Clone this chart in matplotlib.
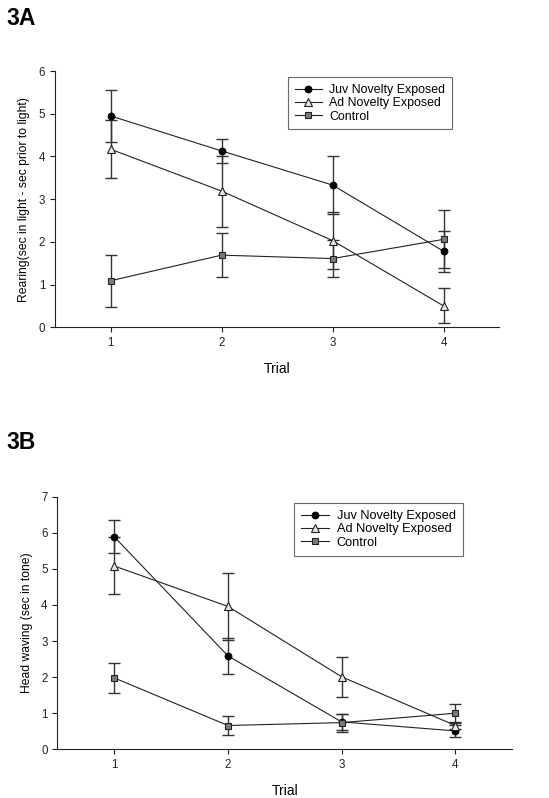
import matplotlib.pyplot as plt

plt.rcParams['font.family'] = ['Liberation Sans', 'DejaVu Sans']

trials = [1, 2, 3, 4]
series_names = ['Juv Novelty Exposed', 'Ad Novelty Exposed', 'Control']

# 3A - rearing
rear_juv = [4.95, 4.13, 3.33, 1.78]
rear_juv_err = [0.60, 0.29, 0.68, 0.48]
rear_ad = [4.17, 3.19, 2.03, 0.50]
rear_ad_err = [0.68, 0.83, 0.66, 0.41]
rear_ctrl = [1.09, 1.69, 1.61, 2.06]
rear_ctrl_err = [0.61, 0.51, 0.44, 0.68]

# 3B - head waving
head_juv = [5.89, 2.59, 0.76, 0.51]
head_juv_err = [0.45, 0.50, 0.22, 0.16]
head_ad = [5.08, 3.96, 2.01, 0.66]
head_ad_err = [0.79, 0.92, 0.56, 0.10]
head_ctrl = [1.98, 0.66, 0.74, 1.00]
head_ctrl_err = [0.42, 0.25, 0.25, 0.26]

styles = [
    dict(marker='o', mfc='black', mec='black', ms=4.8),
    dict(marker='^', mfc='#e8e8e8', mec='#222222', ms=5.3),
    dict(marker='s', mfc='#7a7a7a', mec='#222222', ms=4.6),
]


def draw_panel(ax, values, errs, ylim, ylabel, legend_box, legend_fs):
    # error bars drawn first so markers sit on top
    for v, e in zip(values, errs):
        ax.errorbar(trials, v, yerr=e, fmt='none', ecolor='#333333',
                    elinewidth=1.0, capsize=4, capthick=1.0, zorder=2)
    handles = []
    for v, st, name in zip(values, styles, series_names):
        h, = ax.plot(trials, v, color='#222222', lw=0.8, mew=0.8,
                     label=name, zorder=3, **st)
        handles.append(h)
    ax.set_xlim(0.5, 4.5)
    ax.set_ylim(*ylim)
    ax.set_xticks(trials)
    ax.set_yticks(range(ylim[0], ylim[1] + 1))
    ax.spines['top'].set_visible(False)
    ax.spines['right'].set_visible(False)
    for s in ('left', 'bottom'):
        ax.spines[s].set_linewidth(0.8)
        ax.spines[s].set_color('#222222')
    ax.tick_params(direction='out', length=3.5, width=0.8, labelsize=8.3,
                   colors='#222222')
    ax.set_xlabel('Trial', fontsize=10, labelpad=9)
    ax.set_ylabel(ylabel, fontsize=8.7, labelpad=6)
    leg = ax.legend(handles=handles, loc='upper left',
                    bbox_to_anchor=legend_box, fontsize=legend_fs, frameon=True,
                    fancybox=False, edgecolor='#444444', handlelength=2.2,
                    borderpad=0.55, labelspacing=0.1, handletextpad=0.6,
                    borderaxespad=0)
    leg.get_frame().set_linewidth(0.8)


fig = plt.figure(figsize=(5.49, 7.98), dpi=100)

ax1 = fig.add_axes([0.1002, 0.5898, 0.809, 0.3212])
draw_panel(ax1, [rear_juv, rear_ad, rear_ctrl],
           [rear_juv_err, rear_ad_err, rear_ctrl_err], (0, 6),
           'Rearing(sec in light - sec prior to light)', (0.524, 0.975), 8.9)
fig.text(0.011, 0.977, '3A', fontsize=16.5, weight='bold', va='center')

ax2 = fig.add_axes([0.1044, 0.061, 0.8286, 0.3166])
draw_panel(ax2, [head_juv, head_ad, head_ctrl],
           [head_juv_err, head_ad_err, head_ctrl_err], (0, 7),
           'Head waving (sec in tone)', (0.52, 0.975), 9.2)
fig.text(0.011, 0.445, '3B', fontsize=16.5, weight='bold', va='center')

fig.savefig('out.png', dpi=100)
